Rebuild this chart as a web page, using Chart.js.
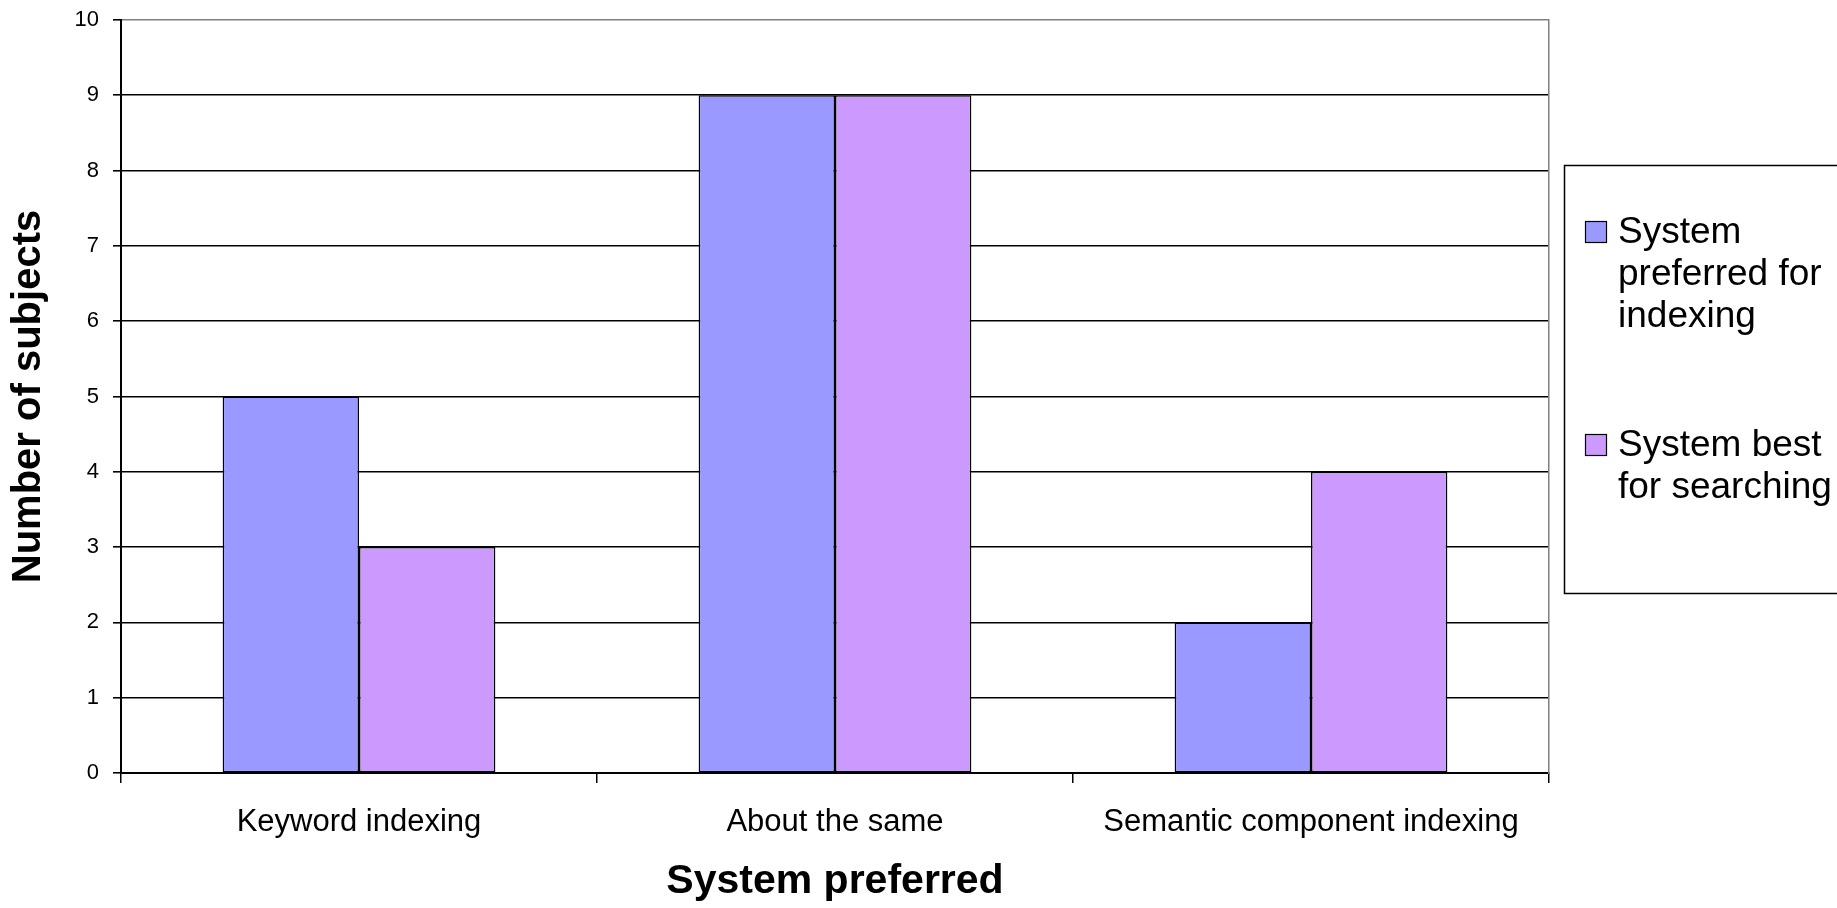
<!DOCTYPE html>
<html>
<head>
<meta charset="utf-8">
<script src="https://cdn.jsdelivr.net/npm/chart.js@4/dist/chart.umd.min.js"></script>
<style>
  html, body { margin: 0; padding: 0; background: #fff; }
  #wrap { width: 1837px; height: 908px; }
</style>
</head>
<body>
<div id="wrap"><canvas id="c" width="1837" height="908"></canvas></div>
<script>
const categories = ['Keyword indexing', 'About the same', 'Semantic component indexing'];
const seriesNames = ['System preferred for indexing', 'System best for searching'];
const indexingValues = [5, 9, 2];
const searchingValues = [3, 9, 4];
const yMin = 0, yMax = 10, yStep = 1;
const xTitle = 'System preferred';
const yTitle = 'Number of subjects';

const FONT = "'Liberation Sans', Arial, sans-serif";

const legendPlugin = {
  id: 'wrapLegend',
  afterDraw(chart) {
    const ctx = chart.ctx;
    ctx.save();
    ctx.lineWidth = 1.5;
    ctx.strokeStyle = '#000';
    ctx.strokeRect(1564.5, 165.5, 400, 428);
    ctx.font = '37px ' + FONT;
    ctx.fillStyle = '#000';
    ctx.textBaseline = 'alphabetic';
    const maxW = 226, lineH = 42;
    const starts = [243, 456];
    chart.data.datasets.forEach((ds, i) => {
      const words = ds.label.split(' ');
      const lines = [];
      let cur = '';
      words.forEach(w => {
        const t = cur ? cur + ' ' + w : w;
        if (cur && ctx.measureText(t).width > maxW) { lines.push(cur); cur = w; }
        else cur = t;
      });
      if (cur) lines.push(cur);
      const b = starts[i];
      ctx.fillStyle = ds.backgroundColor;
      ctx.fillRect(1585, b - 22, 22, 22);
      ctx.lineWidth = 1.2;
      ctx.strokeStyle = '#000';
      ctx.strokeRect(1585.5, b - 21.5, 21, 21);
      ctx.fillStyle = '#000';
      lines.forEach((ln, k) => ctx.fillText(ln, 1618, b + k * lineH));
    });
    ctx.restore();
  }
};

new Chart(document.getElementById('c'), {
  type: 'bar',
  data: {
    labels: categories,
    datasets: [
      { label: seriesNames[0], data: indexingValues, backgroundColor: '#9999FF', borderColor: '#000', borderWidth: 1.5, borderSkipped: false },
      { label: seriesNames[1], data: searchingValues, backgroundColor: '#CC99FF', borderColor: '#000', borderWidth: 1.5, borderSkipped: false }
    ]
  },
  options: {
    responsive: false,
    animation: false,
    layout: { padding: { left: 0, top: 20, right: 288, bottom: 0 } },
    datasets: { bar: { categoryPercentage: 0.573, barPercentage: 1.0 } },
    plugins: { legend: { display: false }, tooltip: { enabled: false } },
    scales: {
      x: {
        grid: { display: true, drawOnChartArea: false, drawTicks: true, tickLength: 10, color: '#000', lineWidth: 1.5, offset: true },
        border: { display: true, color: '#000', width: 2 },
        ticks: { color: '#000', font: { family: FONT, size: 31 }, padding: 21, maxRotation: 0, autoSkip: false },
        title: { display: true, text: xTitle, color: '#000', font: { family: FONT, size: 41, weight: 'bold' }, padding: { top: 0, bottom: 2 } },
        afterFit(s) { s.height = 135; s.paddingLeft = 0; s.paddingRight = 0; }
      },
      y: {
        min: yMin, max: yMax,
        ticks: { stepSize: yStep, color: '#000', font: { family: FONT, size: 22 }, padding: 14 },
        grid: {
          color: (c) => (c.tick && c.tick.value === yMax) ? '#808080' : '#000',
          tickColor: '#000', lineWidth: 1.6, tickLength: 8, drawTicks: true
        },
        border: { display: true, color: '#000', width: 2 },
        title: { display: true, text: yTitle, color: '#000', font: { family: FONT, size: 40, weight: 'bold' }, padding: { top: 5, bottom: 0 } },
        afterFit(s) { s.width = 121; s.paddingTop = 0; s.paddingBottom = 0; }
      },
      y2: {
        position: 'right',
        grid: { display: false },
        ticks: { display: false },
        border: { display: true, color: '#808080', width: 1.5 },
        afterFit(s) { s.width = 0; s.paddingTop = 0; s.paddingBottom = 0; }
      }
    }
  },
  plugins: [legendPlugin]
});
</script>
</body>
</html>
